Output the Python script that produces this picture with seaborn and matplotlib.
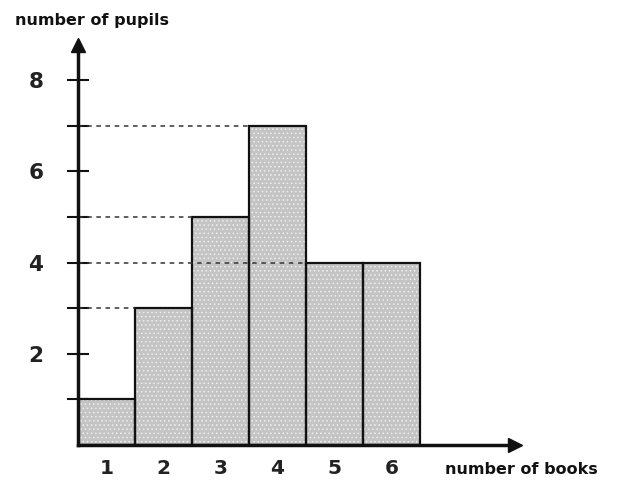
import matplotlib
matplotlib.use("Agg")
import matplotlib.pyplot as plt
import seaborn as sns

books = [1, 2, 3, 4, 5, 6]
pupils = [1, 3, 5, 7, 4, 4]
y_ticks = [1, 2, 3, 4, 5, 6, 7, 8]
y_labels = ["", "2", "", "4", "", "6", "", "8"]

sns.set_style("white")
plt.rcParams["font.family"] = ["DejaVu Sans"]
plt.rcParams["hatch.linewidth"] = 0.6

fig = plt.figure(figsize=(6.17, 4.84), dpi=100)
W, H = 617, 484
unit_px = 45.6
ax = fig.add_axes([78 / W, (H - 445) / H, (515 - 78) / W, (445 - 45) / H])

sns.barplot(x=books, y=pupils, native_scale=True, width=1, color="#c4c4c4",
            saturation=1, linewidth=0, ax=ax, zorder=2)
# speckle on top of the fill, then the black outlines
for p in list(ax.patches):
    ax.add_patch(plt.Rectangle(p.get_xy(), p.get_width(), p.get_height(),
                               fill=False, hatch="....", edgecolor="#eeeeee",
                               linewidth=0, zorder=2.3))
    ax.add_patch(plt.Rectangle(p.get_xy(), p.get_width(), p.get_height(),
                               fill=False, edgecolor="#111111",
                               linewidth=1.6, zorder=2.6))

# dashed guide lines from the axis to each bar
seen = set()
for x, h in zip(books, pupils):
    if h in seen:
        continue
    seen.add(h)
    ax.hlines(h, 0.5, x - 0.5, colors="#333333", linestyles=(0, (3, 3)),
              linewidth=1.1, zorder=3)

ax.set_xlim(0.5, 0.5 + (515 - 78) / 57)
ax.set_ylim(0, (445 - 45) / unit_px)

sns.despine(ax=ax)
for s in ["left", "bottom"]:
    ax.spines[s].set_linewidth(2.5)
    ax.spines[s].set_color("#111111")
    ax.spines[s].set_zorder(4)

ax.plot(1, 0, ">", color="#111111", markersize=10, transform=ax.transAxes, clip_on=False)
ax.plot(0, 1, "^", color="#111111", markersize=10, transform=ax.transAxes, clip_on=False)

ax.set_yticks(y_ticks)
ax.set_yticklabels(y_labels, fontsize=15.5, fontweight="bold", color="#222222")
ax.tick_params(axis="y", left=True, direction="inout", length=16, width=1.5,
               color="#111111", pad=17)
ax.set_xticks(books)
ax.set_xticklabels([str(b) for b in books], fontsize=14.5, fontweight="bold", color="#222222")
ax.tick_params(axis="x", bottom=False, length=0, pad=10)
ax.set_xlabel("")
ax.set_ylabel("")

fig.text(15 / W, 1 - 20 / H, "number of pupils", fontsize=11.5, fontweight="bold",
         va="center", ha="left", color="#111111")
fig.text(445 / W, 1 - 470 / H, "number of books", fontsize=11.5, fontweight="bold",
         va="center", ha="left", color="#111111")

fig.savefig("out.png", dpi=100)
